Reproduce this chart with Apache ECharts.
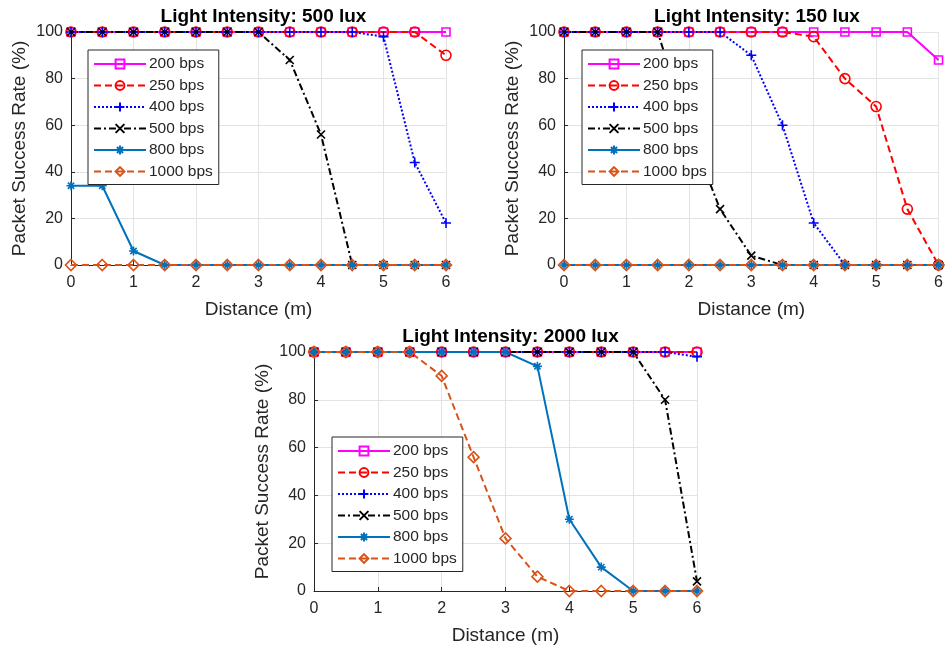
<!DOCTYPE html>
<html>
<head>
<meta charset="utf-8">
<script src="https://cdn.jsdelivr.net/npm/echarts@6/dist/echarts.min.js"></script>
<style>
html, body { margin: 0; padding: 0; background: #fff; }
#main { width: 946px; height: 647px; }
</style>
</head>
<body>
<div id="main"></div>
<script>
// distance (m)
var distance = [0, 0.5, 1, 1.5, 2, 2.5, 3, 3.5, 4, 4.5, 5, 5.5, 6];
var rates = ['200 bps', '250 bps', '400 bps', '500 bps', '800 bps', '1000 bps'];
var panelTitles = ['Light Intensity: 500 lux', 'Light Intensity: 150 lux', 'Light Intensity: 2000 lux'];
var xTicks = [0, 1, 2, 3, 4, 5, 6];
var yTicks = [0, 20, 40, 60, 80, 100];

// 500 lux
var lux500_200 = [100, 100, 100, 100, 100, 100, 100, 100, 100, 100, 100, 100, 100];
var lux500_250 = [100, 100, 100, 100, 100, 100, 100, 100, 100, 100, 100, 100, 90];
var lux500_400 = [100, 100, 100, 100, 100, 100, 100, 100, 100, 100, 98, 44, 18];
var lux500_500 = [100, 100, 100, 100, 100, 100, 100, 88, 56, 0, 0, 0, 0];
var lux500_800 = [34, 34, 6, 0, 0, 0, 0, 0, 0, 0, 0, 0, 0];
var lux500_1000 = [0, 0, 0, 0, 0, 0, 0, 0, 0, 0, 0, 0, 0];

// 150 lux
var lux150_200 = [100, 100, 100, 100, 100, 100, 100, 100, 100, 100, 100, 100, 88];
var lux150_250 = [100, 100, 100, 100, 100, 100, 100, 100, 98, 80, 68, 24, 0];
var lux150_400 = [100, 100, 100, 100, 100, 100, 90, 60, 18, 0, 0, 0, 0];
var lux150_500 = [100, 100, 100, 100, 58, 24, 4, 0, 0, 0, 0, 0, 0];
var lux150_800 = [0, 0, 0, 0, 0, 0, 0, 0, 0, 0, 0, 0, 0];
var lux150_1000 = [0, 0, 0, 0, 0, 0, 0, 0, 0, 0, 0, 0, 0];

// 2000 lux
var lux2000_200 = [100, 100, 100, 100, 100, 100, 100, 100, 100, 100, 100, 100, 100];
var lux2000_250 = [100, 100, 100, 100, 100, 100, 100, 100, 100, 100, 100, 100, 100];
var lux2000_400 = [100, 100, 100, 100, 100, 100, 100, 100, 100, 100, 100, 100, 98];
var lux2000_500 = [100, 100, 100, 100, 100, 100, 100, 100, 100, 100, 100, 80, 4];
var lux2000_800 = [100, 100, 100, 100, 100, 100, 100, 94, 30, 10, 0, 0, 0];
var lux2000_1000 = [100, 100, 100, 100, 90, 56, 22, 6, 0, 0, 0, 0, 0];

var panels = [
    [lux500_200, lux500_250, lux500_400, lux500_500, lux500_800, lux500_1000],
    [lux150_200, lux150_250, lux150_400, lux150_500, lux150_800, lux150_1000],
    [lux2000_200, lux2000_250, lux2000_400, lux2000_500, lux2000_800, lux2000_1000]
];

var font = "'Liberation Sans', Arial, sans-serif";
var textColor = '#262626';

// matlab-ish line styles, one per rate
var styles = [
    { color: '#ff00ff', dash: 'solid', symbol: 'rect', size: 8, open: true },
    { color: '#ff0000', dash: [7, 4], symbol: 'circle', size: 10, open: true },
    { color: '#0000ff', dash: [2, 2], symbol: 'path://M5,0L5,10M0,5L10,5', size: 10, open: false },
    { color: '#000000', dash: [7, 3, 2, 3], symbol: 'path://M0,0L10,10M10,0L0,10', size: 8, open: false },
    { color: '#0072bd', dash: 'solid', symbol: 'path://M5,0L5,10M0,5L10,5M1.5,1.5L8.5,8.5M8.5,1.5L1.5,8.5', size: 9, open: false },
    { color: '#d95319', dash: [7, 4], symbol: 'diamond', size: 11, open: true }
];

var grids = [
    { left: 71, top: 32, width: 375, height: 233 },
    { left: 564, top: 32, width: 376, height: 233 },
    { left: 314, top: 352, width: 383, height: 239 }
];
var legendPos = [
    { left: 88, top: 50 },
    { left: 582, top: 50 },
    { left: 332, top: 437 }
];

var title = [], xAxis = [], yAxis = [], legend = [], series = [];

for (var p = 0; p < 3; p++) {
    var g = grids[p];
    title.push({
        text: panelTitles[p],
        left: g.left + g.width / 2,
        top: g.top - 30,
        textAlign: 'center',
        textStyle: { fontFamily: font, fontSize: 19, fontWeight: 'bold', color: '#000' }
    });
    xAxis.push({
        type: 'value', gridIndex: p, min: 0, max: 6, interval: 1,
        name: 'Distance (m)', nameLocation: 'middle', nameGap: 35,
        nameTextStyle: { fontFamily: font, fontSize: 19, color: textColor },
        axisLine: { lineStyle: { color: textColor, width: 1 } },
        axisTick: { inside: true, length: 4, lineStyle: { color: textColor } },
        axisLabel: { fontFamily: font, fontSize: 16, color: textColor, margin: 10,
            formatter: function (v) { return xTicks.indexOf(v) >= 0 ? String(v) : ''; } },
        splitLine: { show: true, lineStyle: { color: '#e3e3e3', width: 1 } }
    });
    yAxis.push({
        type: 'value', gridIndex: p, min: 0, max: 100, interval: 20,
        name: 'Packet Success Rate (%)', nameLocation: 'middle', nameGap: 42,
        nameTextStyle: { fontFamily: font, fontSize: 19, color: textColor },
        axisLine: { show: true, lineStyle: { color: textColor, width: 1 } },
        axisTick: { show: true, inside: true, length: 4, lineStyle: { color: textColor } },
        axisLabel: { fontFamily: font, fontSize: 16, color: textColor, margin: 8,
            formatter: function (v) { return yTicks.indexOf(v) >= 0 ? String(v) : ''; } },
        splitLine: { show: true, lineStyle: { color: '#e3e3e3', width: 1 } }
    });
    legend.push({
        data: rates.slice(),
        orient: 'vertical',
        left: legendPos[p].left,
        top: legendPos[p].top,
        itemWidth: 52,
        itemHeight: 11,
        itemGap: 5.5,
        padding: [6, 6, 5, 5],
        backgroundColor: '#fff',
        borderColor: '#262626',
        borderWidth: 1,
        borderRadius: 0,
        selectedMode: false,
        textStyle: { fontFamily: font, fontSize: 15.5, color: textColor, padding: [0, 0, 0, -2] }
    });
    for (var r = 0; r < rates.length; r++) {
        var st = styles[r];
        var pts = [];
        for (var i = 0; i < distance.length; i++) {
            pts.push([distance[i], panels[p][r][i]]);
        }
        series.push({
            name: rates[r],
            type: 'line',
            xAxisIndex: p,
            yAxisIndex: p,
            data: pts,
            clip: false,
            symbol: st.symbol,
            symbolSize: st.size,
            showAllSymbol: true,
            lineStyle: { color: st.color, width: 2, type: st.dash },
            itemStyle: {
                color: st.open ? 'rgba(0,0,0,0)' : st.color,
                borderColor: st.color,
                borderWidth: 1.6
            },
            emphasis: { disabled: true },
            animation: false
        });
    }
}

var myChart = echarts.init(document.getElementById('main'));
myChart.setOption({
    backgroundColor: '#fff',
    animation: false,
    title: title,
    grid: grids,
    xAxis: xAxis,
    yAxis: yAxis,
    legend: legend,
    series: series
});
</script>
</body>
</html>
